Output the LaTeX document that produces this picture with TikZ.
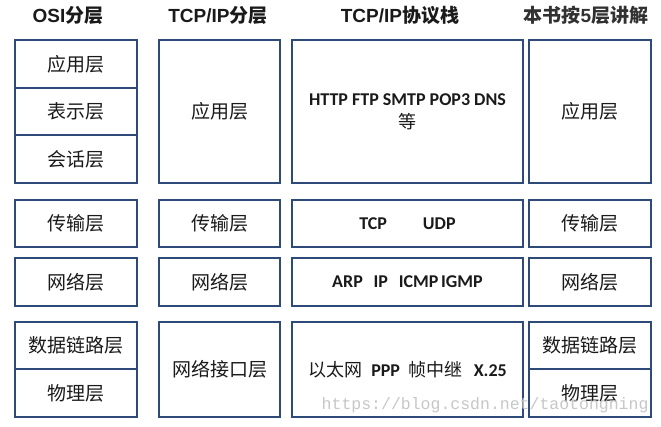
\documentclass[tikz,border=0pt]{standalone}
\usepackage{fontspec}
\setmainfont{Liberation Sans}
\newfontfamily\cjk{Noto Sans CJK SC}
\newfontfamily\cjkb{Noto Sans CJK SC Bold}
\newfontfamily\proto{Carlito}[BoldFont={* Bold}]
\newfontfamily\wmfont{Liberation Mono}
\definecolor{edge}{HTML}{2E4A78}
\definecolor{ink}{HTML}{1A1A1A}
\tikzset{
  x=1pt,y=-1pt,
  layer/.style={draw=edge,line width=1.5pt,fill=white},
  cn/.style={font=\cjk\fontsize{19}{22}\selectfont,text=ink},
  pt/.style={font=\proto\bfseries\fontsize{18}{20}\selectfont,text=ink,align=center},
  head/.style={font=\bfseries\fontsize{19}{22}\selectfont,text=ink}
}
\begin{document}
\begin{tikzpicture}
\useasboundingbox (0,0) rectangle (661,426);
% headings
\node[head] (h1) at (68,15) {OSI{\cjkb 分层}};
\node[head] (h2) at (218,15) {TCP/IP{\cjkb 分层}};
\node[head] (h3) at (400,15) {TCP/IP{\cjkb 协议栈}};
\node[head,text=ink!90] (h4) at (586,15) {{\cjk 本书按}5{\cjk 层讲解}};
% column 1 OSI
\draw[layer] (15,40) rectangle (137,88) node[midway,cn] (o1) {应用层};
\draw[layer] (15,88) rectangle (137,135) node[midway,cn] (o2) {表示层};
\draw[layer] (15,135) rectangle (137,183) node[midway,cn] (o3) {会话层};
\draw[layer] (15,200) rectangle (137,247) node[midway,cn] (o4) {传输层};
\draw[layer] (15,258) rectangle (137,306) node[midway,cn] (o5) {网络层};
\draw[layer] (15,322) rectangle (137,369) node[midway,cn] (o6) {数据链路层};
\draw[layer] (15,369) rectangle (137,417) node[midway,cn] (o7) {物理层};
% column 2 TCP/IP
\draw[layer] (159,40) rectangle (280,183) node[midway,cn] (t1) {应用层};
\draw[layer] (159,200) rectangle (280,247) node[midway,cn] (t2) {传输层};
\draw[layer] (159,258) rectangle (280,306) node[midway,cn] (t3) {网络层};
\draw[layer] (159,322) rectangle (280,417) node[midway,cn] (t4) {网络接口层};
% column 3 protocols
\draw[layer] (292,40) rectangle (523,183) node[midway,pt] (p1) {HTTP FTP SMTP POP3 DNS\\[3pt]{\cjk\mdseries 等}};
\draw[layer] (292,200) rectangle (523,247) node[midway,pt] (p2) {TCP\hspace{2em}UDP};
\draw[layer] (292,258) rectangle (523,306) node[midway,pt] (p3) {ARP\hspace{0.6em}IP\hspace{0.6em}ICMP\hspace{0.15em}IGMP};
\draw[layer] (292,322) rectangle (523,417) node[midway,pt] (p4) {{\cjk\mdseries 以太网}\hspace{0.5em}PPP\hspace{0.5em}{\cjk\mdseries 帧中继}\hspace{0.6em}X.25};
% column 4 five layers
\draw[layer] (529,40) rectangle (651,183) node[midway,cn] (f1) {应用层};
\draw[layer] (529,200) rectangle (651,247) node[midway,cn] (f2) {传输层};
\draw[layer] (529,258) rectangle (651,306) node[midway,cn] (f3) {网络层};
\draw[layer] (529,322) rectangle (651,369) node[midway,cn] (f4) {数据链路层};
\draw[layer] (529,369) rectangle (651,417) node[midway,cn] (f5) {物理层};
% watermark
\node[font=\wmfont\fontsize{16.5}{18}\selectfont,text=black!22,anchor=east] (wm) at (652,405) {https://blog.csdn.net/taotongning};
\end{tikzpicture}
\end{document}
